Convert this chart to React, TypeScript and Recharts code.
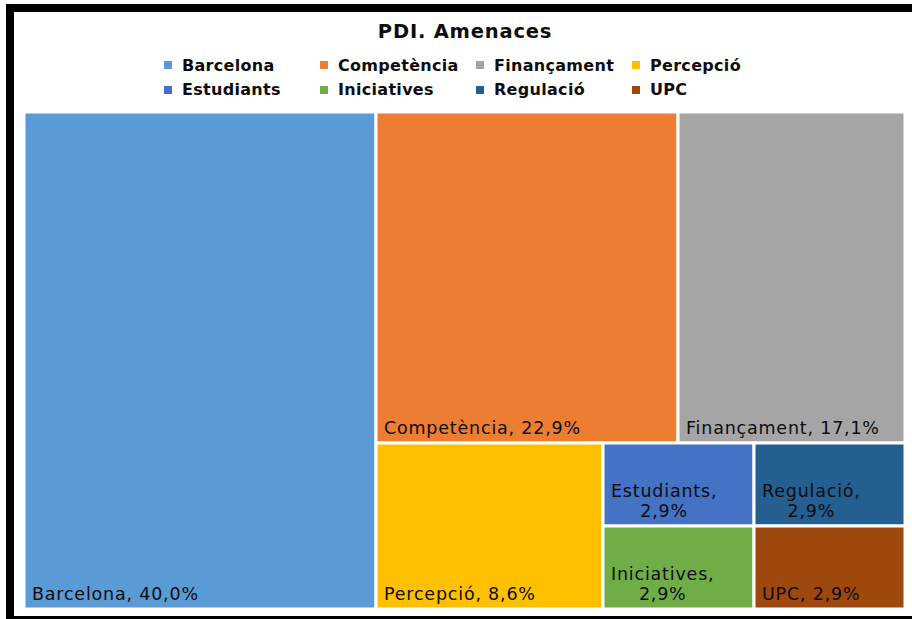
import React from 'react';
import { Treemap } from 'recharts';

// ---- data ----
const title = 'PDI. Amenaces';
const categories = ['Barcelona', 'Competència', 'Finançament', 'Percepció', 'Estudiants', 'Iniciatives', 'Regulació', 'UPC'];
const responses = [14, 8, 6, 3, 1, 1, 1, 1];
const legendRows = [
  ['Barcelona', 'Competència', 'Finançament', 'Percepció'],
  ['Estudiants', 'Iniciatives', 'Regulació', 'UPC'],
];

// ---- styles ----
const colors: Record<string, string> = {
  Barcelona: '#5B9BD5',
  Competència: '#ED7D31',
  Finançament: '#A5A5A5',
  Percepció: '#FFC000',
  Estudiants: '#4472C4',
  Iniciatives: '#70AD47',
  Regulació: '#255E91',
  UPC: '#9E480E',
};
const FONT = 'DejaVu Sans';
const TEXT_COLOR = '#0d0d0d';
const LABEL_SIZE = 17.5;
const LABEL_LS = 0.8;

const total = responses.reduce((a, b) => a + b, 0);
const pct = (v: number) => ((v / total) * 100).toFixed(1).replace('.', ',') + '%';

// hierarchy (groups only steer the library's squarify layout to the Excel arrangement)
const leaf = (i: number) => ({ name: categories[i], value: responses[i] });
const treeData = [
  leaf(0),
  {
    name: 'group-right',
    children: [
      { name: 'layout-spacer', value: 0 },
      { name: 'group-top', children: [leaf(1), leaf(2)] },
      {
        name: 'group-bottom',
        children: [leaf(3), { name: 'group-small', children: [leaf(4), leaf(5), leaf(6), leaf(7)] }],
      },
    ],
  },
];

let ctx: CanvasRenderingContext2D | null = null;
function textWidth(s: string, size: number, weight: string, ls: number) {
  if (!ctx && typeof document !== 'undefined') ctx = document.createElement('canvas').getContext('2d');
  if (!ctx) return s.length * size * 0.62 + ls * s.length;
  ctx.font = `${weight} ${size}px "${FONT}"`;
  return ctx.measureText(s).width + ls * s.length;
}

const CellContent = (props: any) => {
  const { x, y, width, height, name, value, children } = props;
  if ((children && children.length) || !width || !height || !(name in colors)) return null;
  const pad = 8;
  const full = `${name}, ${pct(value)}`;
  const fits = textWidth(full, LABEL_SIZE, 'normal', LABEL_LS) <= width - 2 * pad;
  const common = {
    fontFamily: FONT,
    fontSize: LABEL_SIZE,
    fill: TEXT_COLOR,
    letterSpacing: LABEL_LS,
  };
  let label;
  if (fits) {
    label = (
      <text x={x + pad} y={y + height - 9} {...common}>
        {full}
      </text>
    );
  } else {
    const line1 = `${name},`;
    const w1 = textWidth(line1, LABEL_SIZE, 'normal', LABEL_LS);
    const cx = x + pad + w1 / 2;
    label = (
      <text textAnchor="middle" {...common}>
        <tspan x={cx} y={y + height - 29}>{line1}</tspan>
        <tspan x={cx} y={y + height - 9}>{pct(value)}</tspan>
      </text>
    );
  }
  return (
    <g>
      <rect x={x} y={y} width={width} height={height} fill={colors[name]} stroke="#ffffff" strokeWidth={3} />
      {label}
    </g>
  );
};

export default function App() {
  return (
    <div style={{ position: 'absolute', left: 0, top: 0, width: 912, height: 619, overflow: 'hidden', background: '#fff' }}>
      <div
        style={{
          position: 'absolute',
          left: 6,
          top: 4,
          width: 940,
          height: 620,
          boxSizing: 'border-box',
          border: '8px solid #000',
          background: '#fff',
        }}
      />
      <svg width={912} height={110} style={{ position: 'absolute', left: 0, top: 0 }}>
        <text
          x={465}
          y={38}
          textAnchor="middle"
          fontFamily={FONT}
          fontWeight="bold"
          fontSize={19.5}
          letterSpacing={0.8}
          fill={TEXT_COLOR}
        >
          {title}
        </text>
        {legendRows.map((row, r) =>
          row.map((name, c) => (
            <g key={name}>
              <rect x={164 + c * 156} y={61 + r * 25} width={8} height={8} fill={colors[name]} />
              <text
                x={182 + c * 156}
                y={71 + r * 24}
                fontFamily={FONT}
                fontWeight="bold"
                fontSize={16}
                letterSpacing={0.3}
                fill={TEXT_COLOR}
              >
                {name}
              </text>
            </g>
          ))
        )}
      </svg>
      <div style={{ position: 'absolute', left: 24, top: 112 }}>
        <Treemap
          width={881}
          height={497}
          data={treeData}
          dataKey="value"
          nameKey="name"
          aspectRatio={1}
          isAnimationActive={false}
          content={CellContent as any}
        />
      </div>
    </div>
  );
}
